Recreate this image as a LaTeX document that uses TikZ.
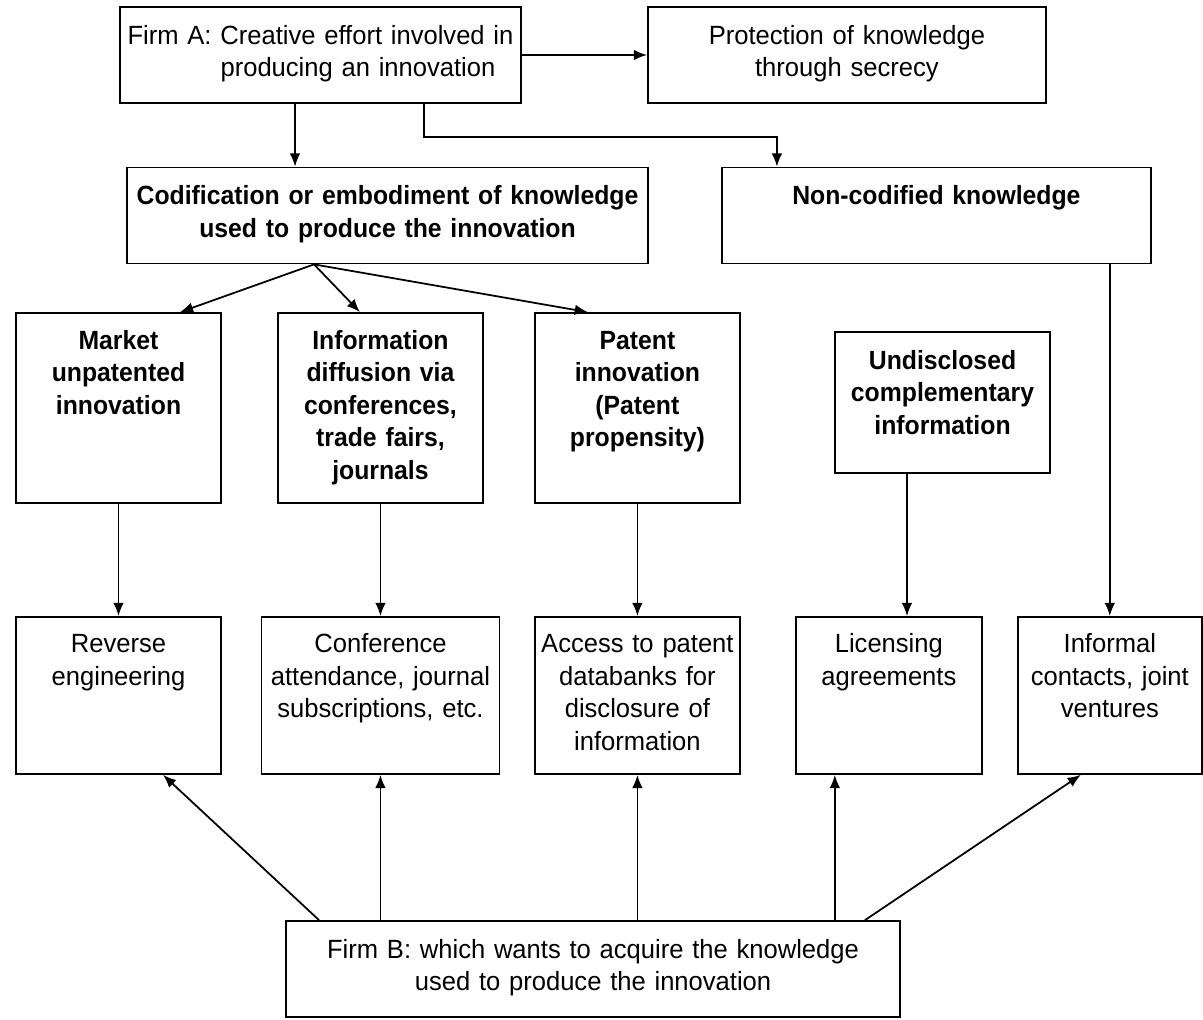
\documentclass[tikz,border=0pt]{standalone}
\usepackage{fontspec}
\setmainfont{Liberation Sans}[UprightFeatures={FakeStretch=0.97}, BoldFeatures={FakeStretch=0.94}]
\usepackage{tikz}
\usetikzlibrary{arrows.meta}
\tikzstyle{block}=[rectangle, draw=black, line width=1pt, inner sep=0pt, align=center, font=\fontsize{15}{18.5}\selectfont, text height=0.74cm, text depth=1.18cm]
\tikzstyle{knowledge}=[block, font=\fontsize{15}{18.5}\selectfont\bfseries]
\tikzstyle{channel}=[knowledge, text height=0.72cm, text depth=3.08cm]
\tikzstyle{route}=[block, text height=0.72cm, text depth=2.42cm]
\tikzstyle{flow}=[-{Latex[length=7.5pt, width=6pt]}, line width=1pt]

\begin{document}
\begin{tikzpicture}[x=0.02cm, y=-0.02cm]
    \useasboundingbox (0,0) rectangle (1203,1019);

    \node[block, text width=8.02cm] (firmA) at (320.5,55) {Firm A: Creative effort involved in\\\hspace*{1.5cm}producing an innovation};
    \node[block, text width=7.96cm] (secrecy) [node distance=10.53cm, right of=firmA] {Protection of knowledge\\through secrecy};

    \node[knowledge, text width=10.42cm] (codified) at (387.5,215.5) {Codification or embodiment of knowledge\\used to produce the innovation};
    \node[knowledge, text width=8.58cm] (tacit) [node distance=10.98cm, right of=codified] {Non-codified knowledge};

    \node[channel, text width=4.1cm] (market) at (118.5,408) {Market\\unpatented\\innovation};
    \node[channel, text width=4.1cm] (diffusion) [node distance=5.24cm, right of=market] {Information\\diffusion via\\conferences,\\trade fairs,\\journals};
    \node[channel, text width=4.1cm] (patent) [node distance=5.14cm, right of=diffusion] {Patent\\innovation\\(Patent\\propensity)};
    \node[channel, text width=4.3cm, text height=0.74cm, text depth=2.08cm] (undisclosed) at (942.5,402.5) {Undisclosed\\complementary\\information};

    \node[route, text width=4.1cm] (reverse) [node distance=5.75cm, below of=market] {Reverse\\engineering};
    \node[route, text width=4.76cm] (conference) [node distance=5.75cm, below of=diffusion] {Conference\\attendance, journal\\subscriptions, etc.};
    \node[route, text width=4.1cm] (databank) [node distance=5.75cm, below of=patent] {Access to patent\\databanks for\\disclosure of\\information};
    \node[route, text width=3.72cm] (licensing) [node distance=5.03cm, right of=databank] {Licensing\\agreements};
    \node[route, text width=3.68cm] (informal) [node distance=4.42cm, right of=licensing] {Informal\\contacts, joint\\ventures};

    \node[block, text width=12.28cm] (firmB) at (593,969) {Firm B: which wants to acquire the knowledge\\used to produce the innovation};

    \draw[flow] ([xshift=-0.51cm]firmA.south) -- ([xshift=-0.51cm]firmA.south |- codified.north);
    \draw[flow] (firmA) -- (secrecy);
    \draw[flow] ([xshift=2.07cm]firmA.south) -- ++(0,-0.66cm) -| ([xshift=-3.19cm]tacit.north);

    \draw[flow] ([xshift=-1.47cm]codified.south) -- ([xshift=1.23cm]market.north);
    \draw[flow] ([xshift=-1.47cm]codified.south) -- ([xshift=-0.41cm]diffusion.north);
    \draw[flow] ([xshift=-1.47cm]codified.south) -- ([xshift=-0.99cm]patent.north);

    \draw[flow] (market) -- (reverse);
    \draw[flow] (diffusion) -- (conference);
    \draw[flow] (patent) -- (databank);
    \draw[flow] ([xshift=-0.71cm]undisclosed.south) -- ([xshift=-0.71cm]undisclosed.south |- licensing.north);
    \draw[flow] (tacit.south -| informal.north) -- (informal.north);

    \draw[flow] ([xshift=-5.48cm]firmB.north) -- ([xshift=0.89cm]reverse.south);
    \draw[flow] (firmB.north -| conference.south) -- (conference.south);
    \draw[flow] (firmB.north -| databank.south) -- (databank.south);
    \draw[flow] ([xshift=-1.08cm]licensing.south |- firmB.north) -- ([xshift=-1.08cm]licensing.south);
    \draw[flow] ([xshift=5.44cm]firmB.north) -- ([xshift=-0.58cm]informal.south);
\end{tikzpicture}
\end{document}
